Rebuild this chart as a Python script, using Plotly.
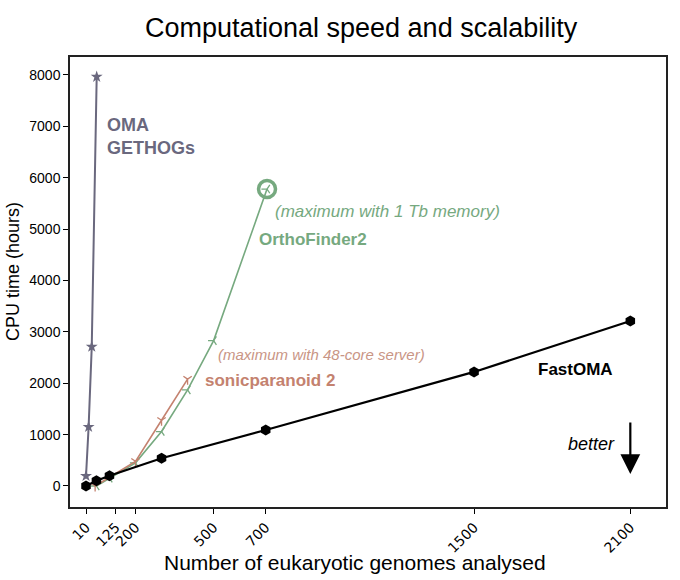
"""Computational speed and scalability of orthology tools."""

import plotly.graph_objects as go

# genomes analysed vs CPU time (hours)
fastoma_x = [10, 50, 100, 300, 700, 1500, 2100]
fastoma_y = [0, 100, 200, 540, 1090, 2220, 3210]

oma_x = [10, 20, 32, 51]
oma_y = [195, 1150, 2710, 7965]

orthofinder_x = [50, 100, 200, 300, 400, 500, 705]
orthofinder_y = [0, 150, 450, 1060, 1870, 2830, 5780]

sonic_x = [45, 200, 300, 400]
sonic_y = [0, 480, 1280, 2080]

x_ticks = [10, 125, 200, 500, 700, 1500, 2100]
y_ticks = [0, 1000, 2000, 3000, 4000, 5000, 6000, 7000, 8000]

OMA_C = "#6a687e"
OF_C = "#76a97f"
SP_C = "#c4826f"
FONT = "Liberation Sans, Arial, Helvetica, sans-serif"


def _figure() -> go.Figure:
    fig = go.Figure()
    fig.add_trace(
        go.Scatter(
            x=oma_x, y=oma_y, mode="lines+markers",
            line={"color": OMA_C, "width": 2},
            marker={"symbol": "star", "size": 9, "color": OMA_C},
        )
    )
    fig.add_trace(
        go.Scatter(
            x=orthofinder_x, y=orthofinder_y, mode="lines+markers",
            line={"color": OF_C, "width": 1.6},
            marker={"symbol": "y-left-open", "size": 7, "color": OF_C,
                    "line": {"color": OF_C, "width": 1.3}},
        )
    )
    # end point: memory limit reached
    fig.add_trace(
        go.Scatter(
            x=orthofinder_x[-1:], y=orthofinder_y[-1:], mode="markers",
            marker={"symbol": "circle-open", "size": 17, "color": OF_C,
                    "line": {"color": OF_C, "width": 3.5}},
        )
    )
    fig.add_trace(
        go.Scatter(
            x=sonic_x, y=sonic_y, mode="lines+markers",
            line={"color": SP_C, "width": 1.6},
            marker={"symbol": "y-down-open", "size": 7, "color": SP_C,
                    "line": {"color": SP_C, "width": 1.3}},
        )
    )
    fig.add_trace(
        go.Scatter(
            x=fastoma_x, y=fastoma_y, mode="lines+markers",
            line={"color": "black", "width": 2.2},
            marker={"symbol": "hexagon", "size": 11, "color": "black"},
        )
    )

    labels = [
        ("OMA", 83, 7026, OMA_C, "bold", "normal", 18),
        ("GETHOGs", 83, 6578, OMA_C, "bold", "normal", 18),
        ("(maximum with 1 Tb memory)", 728, 5352, OF_C, "normal", "italic", 17),
        ("OrthoFinder2", 667, 4807, OF_C, "bold", "normal", 17),
        ("(maximum with 48-core server)", 509, 2550, "#c99585", "normal", "italic", 15),
        ("sonicparanoid 2", 459, 2063, SP_C, "bold", "normal", 17),
        ("FastOMA", 1739, 2258, "black", "bold", "normal", 17),
    ]
    for text, x, y, color, weight, style, size in labels:
        fig.add_annotation(
            x=x, y=y, text=text, showarrow=False, xanchor="left", yanchor="middle",
            font={"family": FONT, "size": size, "color": color,
                  "weight": weight, "style": style},
        )
    fig.add_annotation(
        x=2050, y=817, text="better", showarrow=False, xanchor="right",
        yanchor="middle",
        font={"family": FONT, "size": 18, "color": "black", "style": "italic"},
    )
    fig.add_annotation(
        x=2100, y=234, ax=2100, ay=1265, axref="x", ayref="y", text="",
        showarrow=True, arrowhead=2, arrowsize=1.8, arrowwidth=2.2,
        arrowcolor="black",
    )

    # axis titles as paper annotations so the plot frame stays put
    fig.add_annotation(
        x=(355 - 70) / 596, y=-(562 - 507) / 450, xref="paper", yref="paper",
        text="Number of eukaryotic genomes analysed", showarrow=False,
        font={"family": FONT, "size": 21, "color": "black"},
        xanchor="center", yanchor="middle",
    )
    fig.add_annotation(
        x=(13 - 70) / 596, y=(507 - 272) / 450, xref="paper", yref="paper",
        text="CPU time (hours)", showarrow=False, textangle=-90,
        font={"family": FONT, "size": 18, "color": "black"},
        xanchor="center", yanchor="middle",
    )

    fig.update_layout(
        width=680, height=580,
        margin={"l": 70, "r": 14, "t": 57, "b": 73},
        paper_bgcolor="white", plot_bgcolor="white",
        showlegend=False,
        font={"family": FONT, "color": "black"},
        title={"text": "Computational speed and scalability",
               "x": 0.531, "xanchor": "center", "y": 0.953, "yanchor": "middle",
               "font": {"size": 27, "color": "black"}},
        xaxis={
            "range": [-51.5, 2237], "tickvals": x_ticks, "tickangle": -45,
            "ticks": "outside", "ticklen": 5, "tickcolor": "black",
            "showgrid": False, "zeroline": False, "automargin": False,
            "showline": True, "mirror": True, "linecolor": "#222", "linewidth": 1.5,
            "tickfont": {"family": "DejaVu Sans, sans-serif", "size": 14},
        },
        yaxis={
            "range": [-409, 8350], "tickvals": y_ticks,
            "ticks": "outside", "ticklen": 5, "tickcolor": "black",
            "showgrid": False, "zeroline": False, "automargin": False,
            "showline": True, "mirror": True, "linecolor": "#222", "linewidth": 1.5,
            "tickfont": {"size": 14},
        },
    )
    return fig


if __name__ == "__main__":
    # drop the default 8px body margin so the figure fills the window
    _figure().write_html(
        "out.html",
        config={"displayModeBar": False},
        post_script="document.body.style.margin='0';",
    )
